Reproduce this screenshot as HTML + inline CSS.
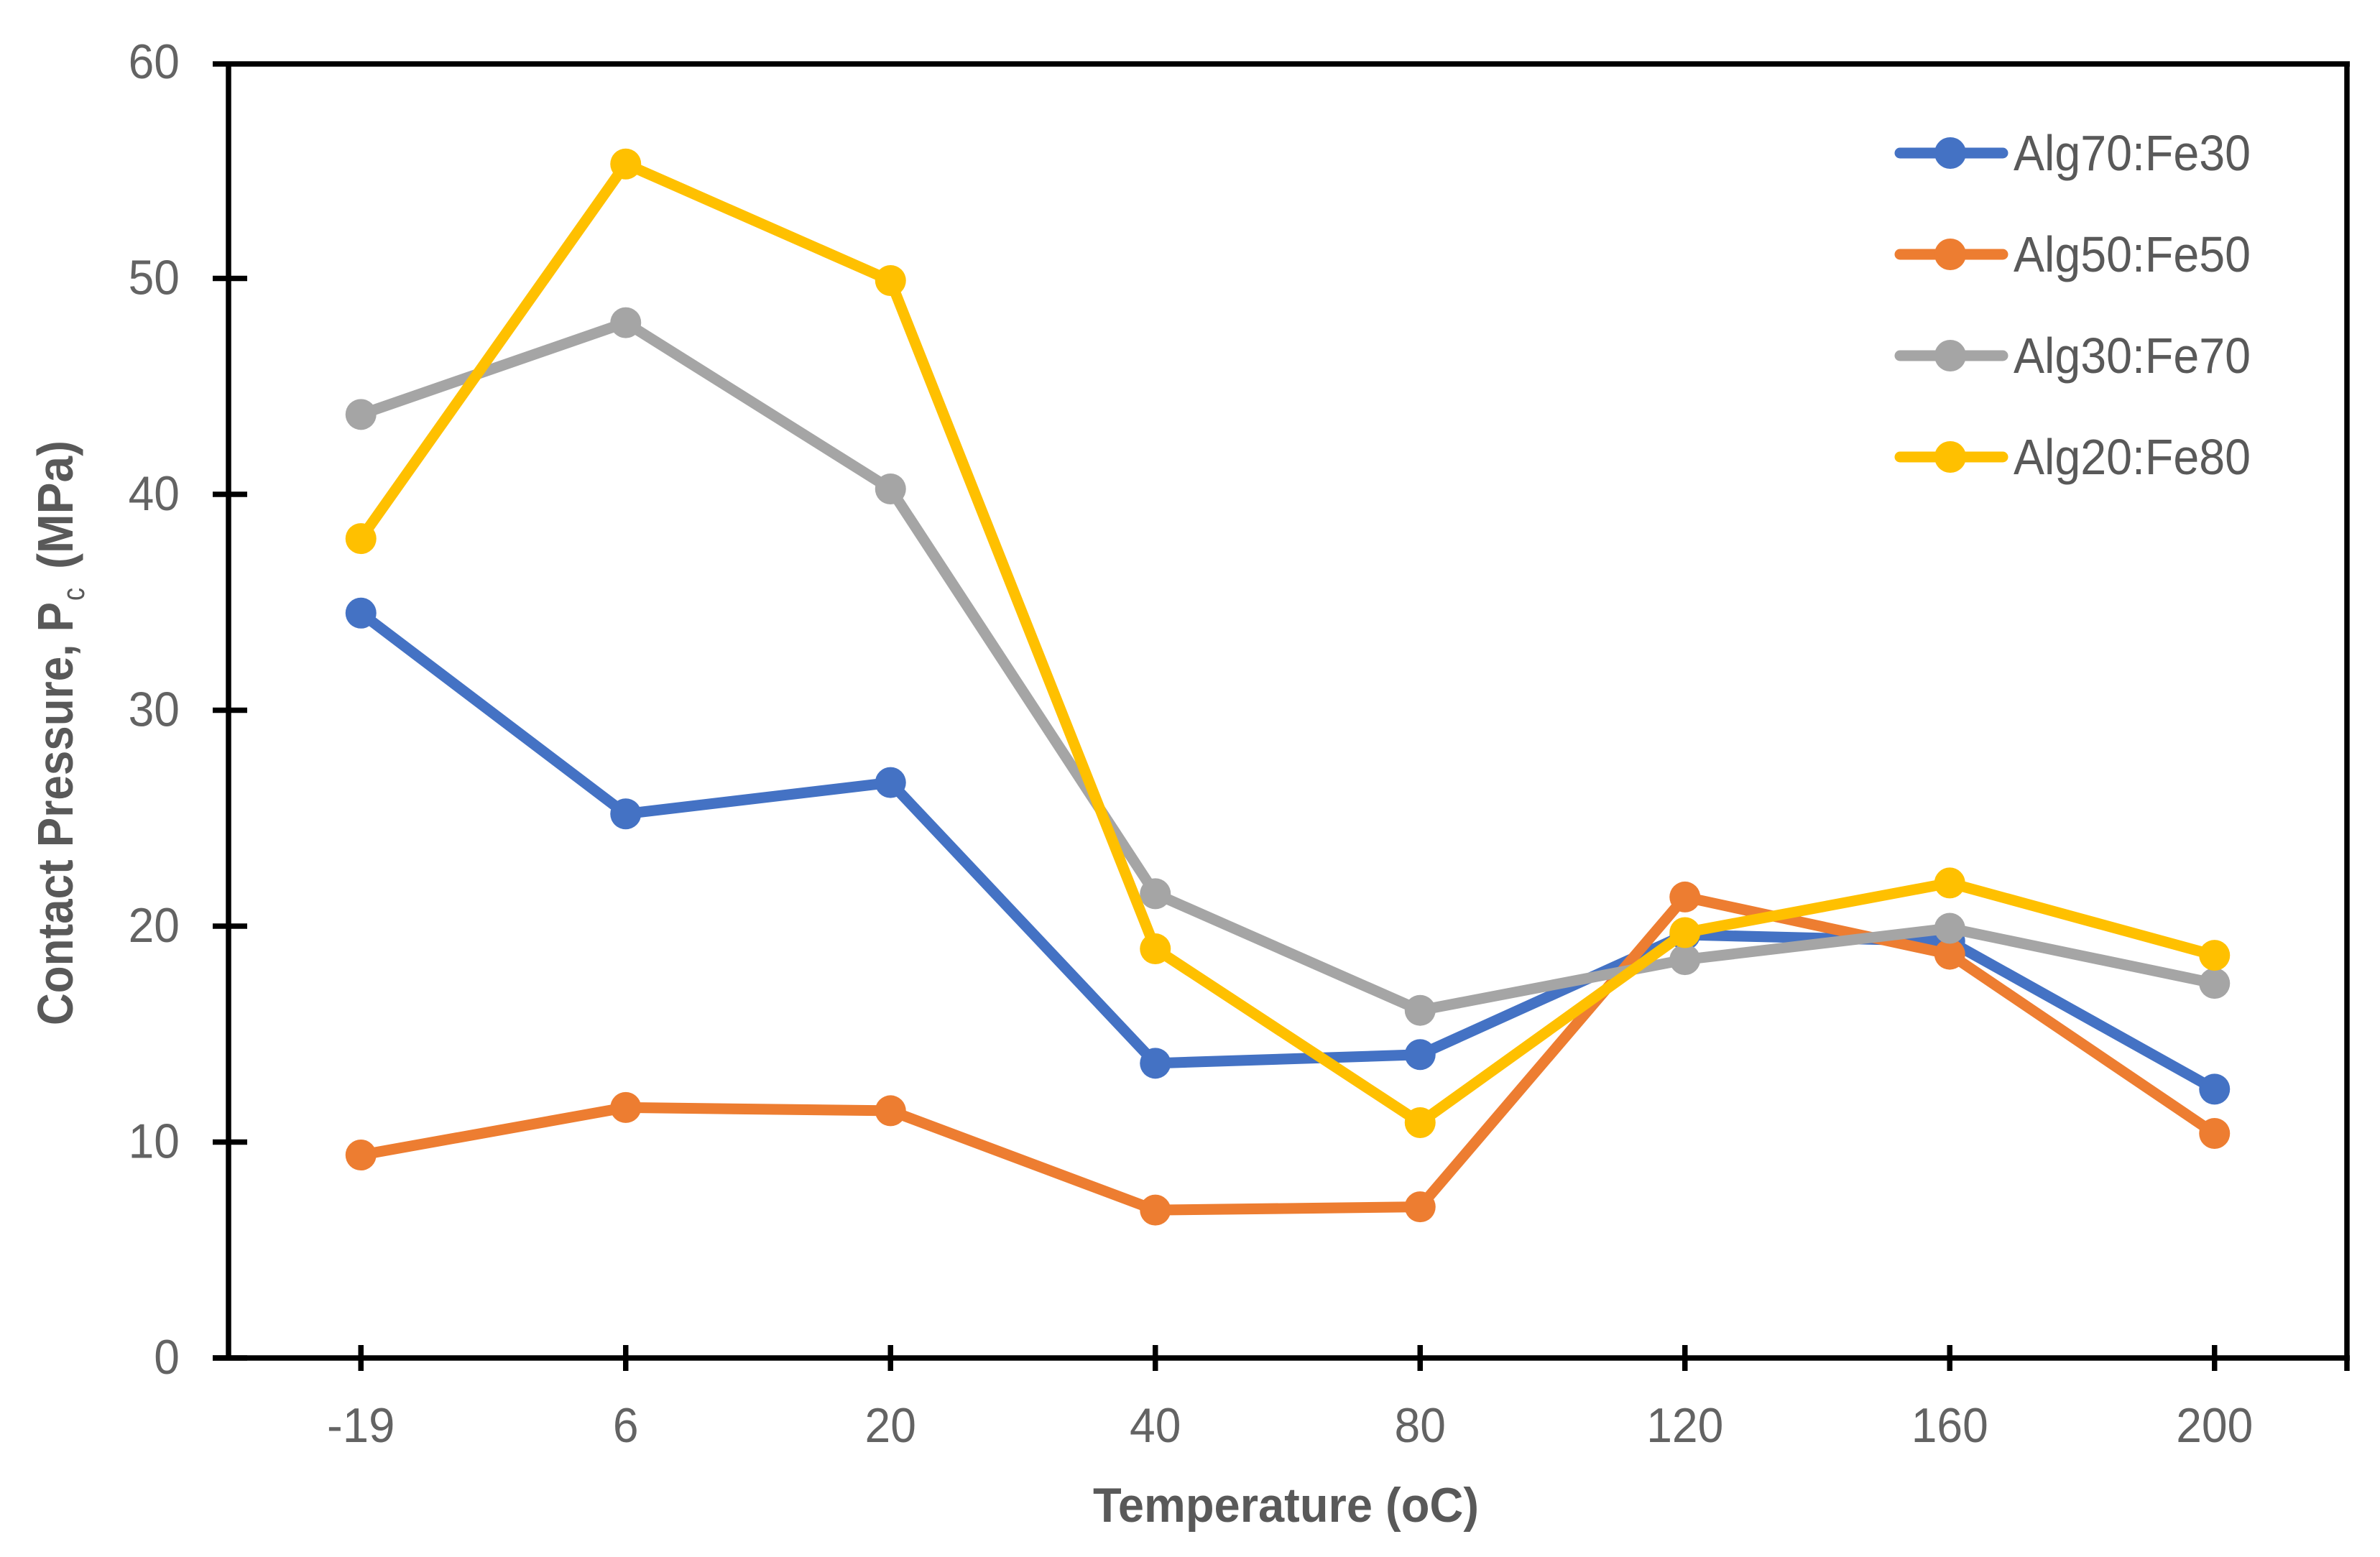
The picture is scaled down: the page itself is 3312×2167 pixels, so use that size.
<!DOCTYPE html>
<html lang="en">
<head>
<meta charset="utf-8">
<title>Contact Pressure vs Temperature</title>
<style>
html,body{margin:0;padding:0;background:#fff;width:3312px;height:2167px;overflow:hidden}
svg{display:block}
text{font-family:"Liberation Sans",sans-serif}
</style>
</head>
<body>
<svg id="chart" xmlns="http://www.w3.org/2000/svg" width="3312" height="2167" viewBox="0 0 3312 2167">
  <rect x="0" y="0" width="3312" height="2167" fill="#ffffff"/>
  <g id="axes"></g>
  <g id="series"></g>
  <g id="legend"></g>
  <text x="1521" y="2118" font-size="68" font-weight="700" fill="#595959" textLength="537" lengthAdjust="spacingAndGlyphs">Temperature (oC)</text>
  <g fill="#595959">
    <text transform="translate(101 1427) rotate(-90)" font-size="70" font-weight="700" textLength="589" lengthAdjust="spacingAndGlyphs">Contact Pressure, P</text>
    <text transform="translate(117 836) rotate(-90)" font-size="44" textLength="18" lengthAdjust="spacingAndGlyphs">c</text>
    <text transform="translate(101 792) rotate(-90)" font-size="70" font-weight="700" textLength="179" lengthAdjust="spacingAndGlyphs">(MPa)</text>
  </g>
</svg>
<script>
const categories = ['-19', '6', '20', '40', '80', '120', '160', '200'];
const yTicks = [0, 10, 20, 30, 40, 50, 60];
const seriesNames = ['Alg70:Fe30', 'Alg50:Fe50', 'Alg30:Fe70', 'Alg20:Fe80'];
const seriesColors = ['#4472c4', '#ed7d31', '#a5a5a5', '#ffc000'];
const alg70 = [34.5, 25.2, 26.65, 13.65, 14.05, 19.6, 19.3, 12.45];
const alg50 = [9.4, 11.6, 11.45, 6.85, 7.0, 21.35, 18.7, 10.4];
const alg30 = [43.7, 47.95, 40.25, 21.5, 16.1, 18.45, 19.9, 17.35];
const alg20 = [37.95, 55.3, 49.9, 18.95, 10.9, 19.7, 22.0, 18.65];
const seriesValues = [alg70, alg50, alg30, alg20];

const NS = 'http://www.w3.org/2000/svg';
const PLOT_LEFT = 318, PLOT_RIGHT = 3266, PLOT_TOP = 89, PLOT_BOTTOM = 1890;
const UNITS_PER_PX = 30.05;
const BAND = (PLOT_RIGHT - PLOT_LEFT) / categories.length;
function xScale(i) { return PLOT_LEFT + BAND * (i + 0.5); }
function yScale(v) { return PLOT_BOTTOM - v * UNITS_PER_PX; }
function make(tag, parent, attrs) {
  const el = document.createElementNS(NS, tag);
  for (const k in attrs) el.setAttribute(k, attrs[k]);
  parent.appendChild(el);
  return el;
}
function labelWidth(s) {
  let w = 0;
  for (const c of s) w += c === '-' ? 23 : 35.7;
  return w;
}

const axes = document.getElementById('axes');
const lineStyle = { stroke: '#000', 'stroke-width': 7.5 };

const leftAxis = make('line', axes, { x1: PLOT_LEFT, y1: PLOT_TOP, x2: PLOT_LEFT, y2: PLOT_BOTTOM, ...lineStyle });


const rightAxis = make('line', axes, { x1: PLOT_RIGHT, y1: PLOT_TOP, x2: PLOT_RIGHT, y2: 1908, ...lineStyle });


const topAxis = make('line', axes, { x1: 296, y1: PLOT_TOP, x2: PLOT_RIGHT + 4, y2: PLOT_TOP, ...lineStyle });


const bottomAxis = make('line', axes, { x1: 296, y1: PLOT_BOTTOM, x2: PLOT_RIGHT + 4, y2: PLOT_BOTTOM, ...lineStyle });



yTicks.forEach(function (v) {
  const y = yScale(v);
  if (v < 60) {
    const t = make('line', axes, { x1: 296, y1: y, x2: 344, y2: y, ...lineStyle });
    
    
  }
  const s = String(v);
  const lab = make('text', axes, { x: 250, y: y + 22, 'text-anchor': 'end', 'font-size': 68, fill: '#636363', textLength: labelWidth(s), lengthAdjust: 'spacingAndGlyphs' });
  
  
  lab.textContent = s;
});

categories.forEach(function (c, i) {
  const x = xScale(i);
  const t = make('line', axes, { x1: x, y1: 1872, x2: x, y2: 1908, ...lineStyle });
  
  
  const lab = make('text', axes, { x: x, y: 2007, 'text-anchor': 'middle', 'font-size': 68, fill: '#636363', textLength: labelWidth(c), lengthAdjust: 'spacingAndGlyphs' });
  
  
  lab.textContent = c;
});

const seriesLayer = document.getElementById('series');
seriesValues.forEach(function (vals, si) {
  const g = make('g', seriesLayer, {});
  
  
  const pts = vals.map(function (v, i) { return xScale(i) + ',' + yScale(v); }).join(' ');
  const line = make('polyline', g, { points: pts, fill: 'none', stroke: seriesColors[si], 'stroke-width': 15, 'stroke-linejoin': 'round', 'stroke-linecap': 'round' });
  
  
  vals.forEach(function (v, i) {
    const dot = make('circle', g, { cx: xScale(i), cy: yScale(v), r: 21.5, fill: seriesColors[si] });
    
    
  });
});

const legend = document.getElementById('legend');
const LEGEND_TOP = 213, LEGEND_STEP = 141;
seriesNames.forEach(function (name, i) {
  const y = LEGEND_TOP + i * LEGEND_STEP;
  const g = make('g', legend, {});
  
  
  const l = make('line', g, { x1: 2644, y1: y, x2: 2787, y2: y, stroke: seriesColors[i], 'stroke-width': 15, 'stroke-linecap': 'round' });
  
  
  const c = make('circle', g, { cx: 2714, cy: y, r: 22, fill: seriesColors[i] });
  
  
  const t = make('text', g, { x: 2802, y: y + 24, 'font-size': 70, fill: '#595959', textLength: 330, lengthAdjust: 'spacingAndGlyphs' });
  
  
  t.textContent = name;
});
</script>
</body>
</html>
